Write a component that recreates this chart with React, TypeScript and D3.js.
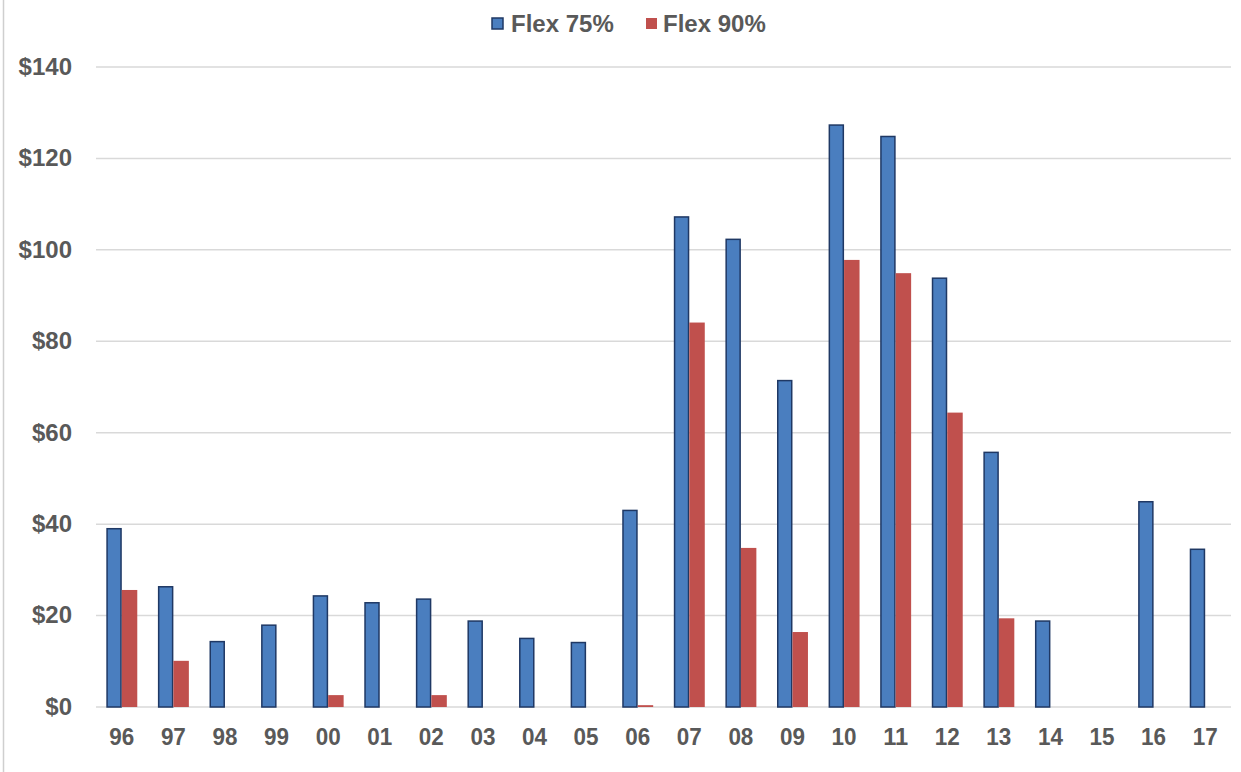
import React from "react";
import * as d3 from "d3";

const categories = ["96","97","98","99","00","01","02","03","04","05","06","07","08","09","10","11","12","13","14","15","16","17"];
const flex75 = [39, 26.3, 14.3, 17.9, 24.3, 22.8, 23.6, 18.8, 15.0, 14.1, 43, 107.2, 102.3, 71.4, 127.3, 124.8, 93.8, 55.7, 18.8, 0, 44.9, 34.5];
const flex90 = [25.6, 10.1, 0, 0, 2.6, 0, 2.6, 0, 0, 0, 0.4, 84.1, 34.8, 16.4, 97.8, 94.9, 64.4, 19.4, 0, 0, 0, 0];
const yTicks = [0, 20, 40, 60, 80, 100, 120, 140];
const seriesNames = ["Flex 75%", "Flex 90%"];
const seriesColors = ["#4a7ebf", "#c0504d"];

const W = 1241, H = 772;
const left = 96, right = 1231, top = 67, bottom = 707;

export default function App() {
  const x = d3.scaleBand<string>().domain(categories).range([left, right]).paddingInner(0.4).paddingOuter(0.2);
  const sub = d3.scaleBand<string>().domain(seriesNames).range([0, x.bandwidth()]);
  const y = d3.scaleLinear().domain([0, 140]).range([bottom, top]);
  const series = [flex75, flex90];
  const font = "'Liberation Sans', Arial, sans-serif";
  return (
    <div style={{ position: "absolute", left: 0, top: 0 }}>
      <svg width={W} height={H} style={{ display: "block", background: "#fff" }}>
        <line x1={3.5} x2={3.5} y1={0} y2={H} stroke="#cfcfcf" strokeWidth={1.5} />
        {yTicks.map((t) => (
          <g key={t}>
            <line x1={left} x2={right} y1={y(t)} y2={y(t)} stroke="#d9d9d9" strokeWidth={1.5} />
            <text x={72} y={y(t)} dy="0.33em" textAnchor="end" fontFamily={font} fontWeight="bold" fontSize={24} fill="#595959">
              {"$" + t}
            </text>
          </g>
        ))}
        {series.map((vals, si) =>
          vals.map((v, i) =>
            v > 0 ? (
              <rect
                key={si + "-" + i}
                x={(x(categories[i]) as number) + (sub(seriesNames[si]) as number) + (si === 0 ? 0.75 : 0)}
                y={y(v)}
                width={sub.bandwidth() - (si === 0 ? 1.5 : 0)}
                height={bottom - y(v)}
                fill={seriesColors[si]}
                stroke={si === 0 ? "#1f3864" : "none"}
                strokeWidth={si === 0 ? 1.5 : 0}
              />
            ) : null
          )
        )}
        {categories.map((c) => (
          <text key={c} x={(x(c) as number) + x.bandwidth() / 2} y={745} textAnchor="middle" fontFamily={font} fontWeight="bold" fontSize={23} fill="#595959" textLength={25} lengthAdjust="spacingAndGlyphs">
            {c}
          </text>
        ))}
        <g>
          <rect x={492} y={18} width={11} height={11} fill={seriesColors[0]} stroke="#1f3864" strokeWidth={1.5} />
          <text x={511} y={32} fontFamily={font} fontWeight="bold" fontSize={24} fill="#595959">{seriesNames[0]}</text>
          <rect x={646} y={18} width={11} height={11} fill={seriesColors[1]} />
          <text x={663} y={32} fontFamily={font} fontWeight="bold" fontSize={24} fill="#595959">{seriesNames[1]}</text>
        </g>
      </svg>
    </div>
  );
}
